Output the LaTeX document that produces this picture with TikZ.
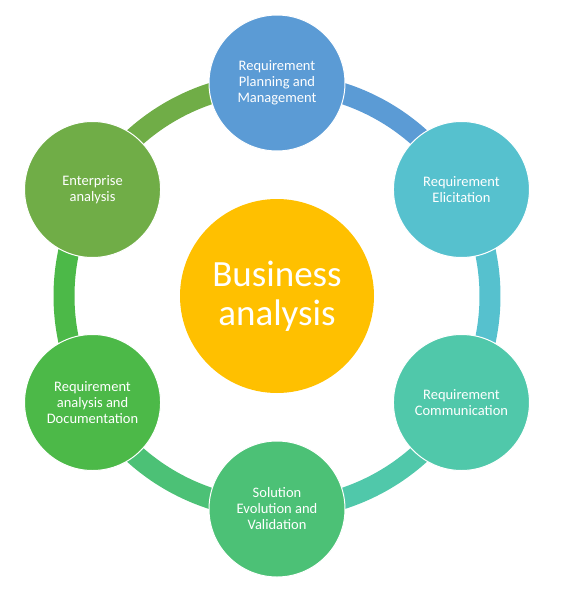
\documentclass[tikz,border=0pt]{standalone}
\usepackage{fontspec}
\setmainfont{Carlito}
\definecolor{cTop}{HTML}{5B9BD5}
\definecolor{cEli}{HTML}{56C1CE}
\definecolor{cCom}{HTML}{50C8AA}
\definecolor{cSol}{HTML}{4CC176}
\definecolor{cAna}{HTML}{4CB948}
\definecolor{cEnt}{HTML}{70AD47}
\definecolor{cMid}{HTML}{FFC000}
\tikzset{
  phase/.style={circle, minimum size=136pt, inner sep=0pt, draw=white, line width=1pt,
    text=white, align=center, font=\fontsize{14.5}{16}\selectfont},
  ringseg/.style={line width=21pt},
}
\begin{document}
\begin{tikzpicture}[x=1pt,y=1pt]
\useasboundingbox (0,0) rectangle (584,-590);
\coordinate (C) at (277,-296);
\def\R{213}
% ring segments
\path (C) ++(90:\R) coordinate (pTop)
      (C) ++(30:\R) coordinate (pEli)
      (C) ++(-30:\R) coordinate (pCom)
      (C) ++(-90:\R) coordinate (pSol)
      (C) ++(-150:\R) coordinate (pAna)
      (C) ++(150:\R) coordinate (pEnt);
\draw[ringseg, cTop] (pTop) arc[start angle=90, end angle=30, radius=\R];
\draw[ringseg, cEli] (pEli) arc[start angle=30, end angle=-30, radius=\R];
\draw[ringseg, cCom] (pCom) arc[start angle=-30, end angle=-90, radius=\R];
\draw[ringseg, cSol] (pSol) arc[start angle=-90, end angle=-150, radius=\R];
\draw[ringseg, cAna] (pAna) arc[start angle=-150, end angle=-210, radius=\R];
\draw[ringseg, cEnt] (pEnt) arc[start angle=150, end angle=90, radius=\R];
% nodes
\node[phase, fill=cTop] (top) at (pTop) {Requirement\\Planning and\\Management};
\node[phase, fill=cEli] (eli) at (pEli) {Requirement\\Elicitation};
\node[phase, fill=cCom] (com) at (pCom) {Requirement\\Communication};
\node[phase, fill=cSol] (sol) at (pSol) {Solution\\Evolution and\\Validation};
\node[phase, fill=cAna] (ana) at (pAna) {Requirement\\analysis and\\Documentation};
\node[phase, fill=cEnt] (ent) at (pEnt) {Enterprise\\analysis};
\node[circle, minimum size=194pt, inner sep=0pt, fill=cMid, text=white, align=center,
  font=\fontsize{37}{39}\selectfont] (mid) at (C) {Business\\analysis};
\end{tikzpicture}
\end{document}
